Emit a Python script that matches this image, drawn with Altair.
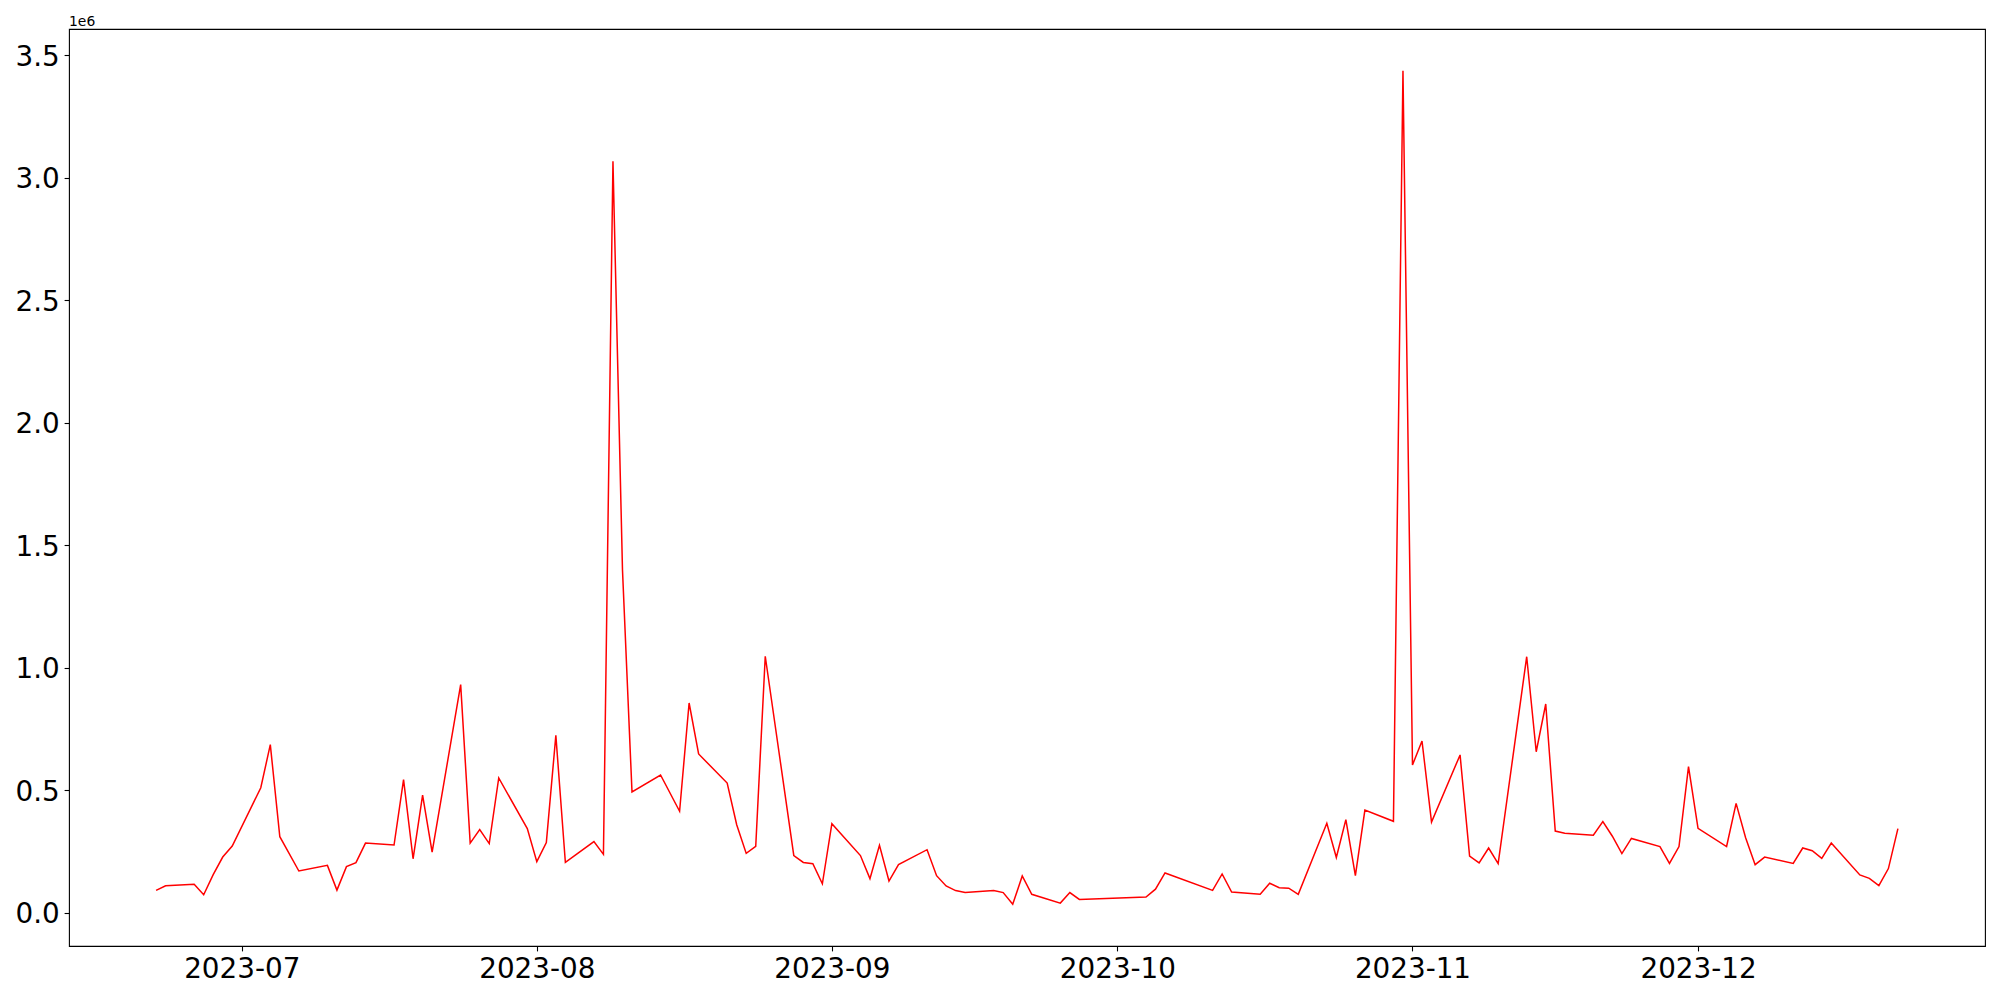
import altair as alt
import pandas as pd

# Trading dates and values (in units; axis shows ×1e6)
dates = [
    "2023-06-22", "2023-06-23", "2023-06-26", "2023-06-27", "2023-06-28", "2023-06-29", "2023-06-30",
    "2023-07-03", "2023-07-04", "2023-07-05", "2023-07-07",
    "2023-07-10", "2023-07-11", "2023-07-12", "2023-07-13", "2023-07-14",
    "2023-07-17", "2023-07-18", "2023-07-19", "2023-07-20", "2023-07-21",
    "2023-07-24", "2023-07-25", "2023-07-26", "2023-07-27", "2023-07-28",
    "2023-07-31", "2023-08-01", "2023-08-02", "2023-08-03", "2023-08-04",
    "2023-08-07", "2023-08-08", "2023-08-09", "2023-08-10", "2023-08-11",
    "2023-08-14", "2023-08-16", "2023-08-17", "2023-08-18",
    "2023-08-21", "2023-08-22", "2023-08-23", "2023-08-24", "2023-08-25",
    "2023-08-28", "2023-08-29", "2023-08-30", "2023-08-31", "2023-09-01",
    "2023-09-04", "2023-09-05", "2023-09-06", "2023-09-07", "2023-09-08",
    "2023-09-11", "2023-09-12", "2023-09-13", "2023-09-14", "2023-09-15",
    "2023-09-18", "2023-09-19", "2023-09-20", "2023-09-21", "2023-09-22",
    "2023-09-25", "2023-09-26", "2023-09-27",
    "2023-10-04", "2023-10-05", "2023-10-06",
    "2023-10-11", "2023-10-12", "2023-10-13",
    "2023-10-16", "2023-10-17", "2023-10-18", "2023-10-19", "2023-10-20",
    "2023-10-23", "2023-10-24", "2023-10-25", "2023-10-26", "2023-10-27",
    "2023-10-30", "2023-10-31", "2023-11-01", "2023-11-02", "2023-11-03",
    "2023-11-06", "2023-11-07", "2023-11-08", "2023-11-09", "2023-11-10",
    "2023-11-13", "2023-11-14", "2023-11-15", "2023-11-16", "2023-11-17",
    "2023-11-20", "2023-11-21", "2023-11-22", "2023-11-23", "2023-11-24",
    "2023-11-27", "2023-11-28", "2023-11-29", "2023-11-30", "2023-12-01",
    "2023-12-04", "2023-12-05", "2023-12-06", "2023-12-07", "2023-12-08",
    "2023-12-11", "2023-12-12", "2023-12-13", "2023-12-14", "2023-12-15",
    "2023-12-18", "2023-12-19", "2023-12-20", "2023-12-21", "2023-12-22",
]

values_m = [
    0.091, 0.110, 0.116, 0.073, 0.155, 0.227, 0.272,
    0.510, 0.686, 0.310, 0.170,
    0.193, 0.092, 0.188, 0.204, 0.284,
    0.276, 0.543, 0.220, 0.480, 0.247,
    0.931, 0.284, 0.339, 0.282, 0.550,
    0.343, 0.208, 0.286, 0.724, 0.205,
    0.290, 0.238, 3.068, 1.400, 0.493,
    0.562, 0.414, 0.856, 0.648,
    0.529, 0.359, 0.242, 0.271, 1.047,
    0.233, 0.205, 0.200, 0.118, 0.363,
    0.233, 0.139, 0.275, 0.129, 0.196,
    0.257, 0.151, 0.109, 0.090, 0.082,
    0.090, 0.082, 0.034, 0.150, 0.075,
    0.039, 0.082, 0.054,
    0.064, 0.096, 0.162,
    0.091, 0.158, 0.084,
    0.075, 0.120, 0.102, 0.100, 0.075,
    0.365, 0.225, 0.380, 0.151, 0.419,
    0.373, 3.438, 0.603, 0.701, 0.370,
    0.644, 0.231, 0.203, 0.264, 0.200,
    1.045, 0.657, 0.852, 0.333, 0.324,
    0.316, 0.372, 0.312, 0.241, 0.303,
    0.270, 0.201, 0.270, 0.596, 0.344,
    0.270, 0.446, 0.306, 0.196, 0.227,
    0.201, 0.264, 0.253, 0.222, 0.284,
    0.154, 0.140, 0.110, 0.180, 0.343,
]

month_ticks = ["2023-07-01", "2023-08-01", "2023-09-01", "2023-10-01", "2023-11-01", "2023-12-01"]
y_ticks_m = [0.0, 0.5, 1.0, 1.5, 2.0, 2.5, 3.0, 3.5]

df = pd.DataFrame({"date": dates, "value": [v * 1e6 for v in values_m]})

# matplotlib-like 5% margins
ts = pd.to_datetime(pd.Series(dates))
t0, t1 = ts.min(), ts.max()
span = t1 - t0
ms = lambda t: int(pd.Timestamp(t).value // 10**6)
x_domain = [ms(t0 - 0.05 * span), ms(t1 + 0.05 * span)]
vmin, vmax = df["value"].min(), df["value"].max()
vr = vmax - vmin
y_domain = [vmin - 0.05 * vr, vmax + 0.05 * vr]

x_tick_vals = [ms(t) for t in month_ticks]
y_tick_vals = [v * 1e6 for v in y_ticks_m]

line = alt.Chart(df).mark_line(color="#ff0000", strokeWidth=1.5).encode(
    x=alt.X(
        "date:T",
        scale=alt.Scale(type="utc", domain=x_domain, nice=False),
        axis=alt.Axis(
            values=x_tick_vals,
            labelExpr="utcFormat(datum.value, '%Y-%m')",
            title="",
            labelPadding=4.9,
        ),
    ),
    y=alt.Y(
        "value:Q",
        scale=alt.Scale(domain=y_domain, nice=False, zero=False),
        axis=alt.Axis(
            values=y_tick_vals,
            labelExpr="format(datum.value / 1000000, '.1f')",
            title="",
            labelPadding=4.9,
            labelOffset=2,
        ),
    ),
)

offset_text = alt.Chart(pd.DataFrame({"t": ["1e6"]})).mark_text(
    text="1e6", align="left", baseline="alphabetic", fontSize=13.9,
    font="DejaVu Sans", color="black",
).encode(x=alt.value(0), y=alt.value(-3.3))

chart = alt.layer(line, offset_text).properties(
    width=1916,
    height=917,
    autosize=alt.AutoSizeParams(type="none"),
    padding={"left": 61, "top": 21, "right": 7, "bottom": 46},
    background="white",
).configure_view(
    stroke="black", strokeWidth=1.1
).configure_axis(
    domain=False,
    grid=False,
    ticks=True,
    tickColor="black",
    tickSize=4.9,
    tickWidth=1.1,
    labelFont="DejaVu Sans",
    labelFontSize=27.8,
    labelColor="black",
)

chart.save("out.html", embed_options={"renderer": "svg", "actions": False})
